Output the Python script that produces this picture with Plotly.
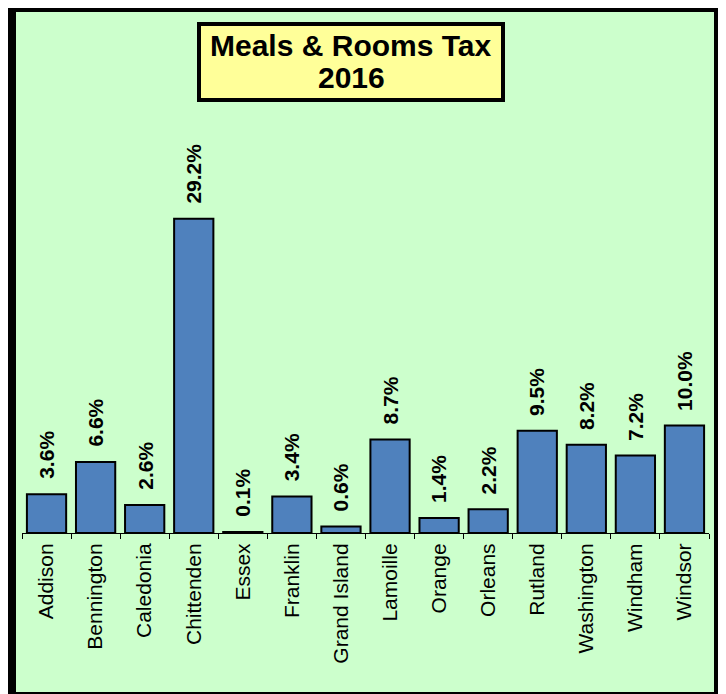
import plotly.graph_objects as go

counties = ["Addison", "Bennington", "Caledonia", "Chittenden", "Essex", "Franklin",
            "Grand Island", "Lamoille", "Orange", "Orleans", "Rutland", "Washington",
            "Windham", "Windsor"]
shares = [3.6, 6.6, 2.6, 29.2, 0.1, 3.4, 0.6, 8.7, 1.4, 2.2, 9.5, 8.2, 7.2, 10.0]
title_lines = ["Meals & Rooms Tax", "2016"]

# page offset caused by the default 8px body margin of the html page
OFF = 8
W, H = 726 - OFF, 694 - OFF
L, R, T, B = 14, 17, 142, 161
PW, PH = W - L - R, H - T - B

def px(x):
    """page x pixel -> paper coordinate"""
    return (x - OFF - L) / PW

def py(y):
    """page y pixel -> paper coordinate"""
    return (H - B - (y - OFF)) / PH

FONT = "Liberation Sans, Arial, sans-serif"

fig = go.Figure()
fig.add_trace(go.Bar(
    x=counties, y=shares,
    marker=dict(color="#4F81BD", line=dict(color="black", width=2)),
    hoverinfo="skip",
))

annotations = []
for c, v in zip(counties, shares):
    annotations.append(dict(
        x=c, y=v, xref="x", yref="y", text=f"<b>{v:.1f}%</b>",
        showarrow=False, textangle=-90, xanchor="center", yanchor="bottom",
        yshift=13, font=dict(family=FONT, size=21, color="black"),
    ))

# title lines
annotations.append(dict(x=px(351), y=py(46), xref="paper", yref="paper",
                        text=f"<b>{title_lines[0]}</b>", showarrow=False,
                        xanchor="center", yanchor="middle",
                        font=dict(family=FONT, size=30, color="black")))
annotations.append(dict(x=px(351), y=py(78), xref="paper", yref="paper",
                        text=f"<b>{title_lines[1]}</b>", showarrow=False,
                        xanchor="center", yanchor="middle",
                        font=dict(family=FONT, size=30, color="black")))

shapes = [
    # outer green panel with thick black border
    dict(type="rect", xref="paper", yref="paper", x0=px(12), x1=px(718), y0=py(8), y1=py(696),
         fillcolor="#CCFFCC", line=dict(color="black", width=8), layer="below"),
    # title box
    dict(type="rect", xref="paper", yref="paper", x0=px(199), x1=px(503), y0=py(24), y1=py(100),
         fillcolor="#FFFF99", line=dict(color="black", width=4), layer="above"),
]

fig.update_layout(
    width=W, height=H,
    margin=dict(l=L, r=R, t=T, b=B),
    paper_bgcolor="white", plot_bgcolor="rgba(0,0,0,0)",
    bargap=0.2, showlegend=False,
    shapes=shapes, annotations=annotations,
    xaxis=dict(
        type="category", showline=True, linecolor="black", linewidth=1,
        ticks="outside", tickson="boundaries", ticklen=5, tickcolor="black", tickwidth=1,
        tickangle=-90, showgrid=False, zeroline=False,
        tickfont=dict(family=FONT, size=21, color="black"),
        ticklabelstandoff=1,
    ),
    yaxis=dict(visible=False, range=[0, 35.6], showgrid=False, zeroline=False),
)

fig.write_html("out.html")
